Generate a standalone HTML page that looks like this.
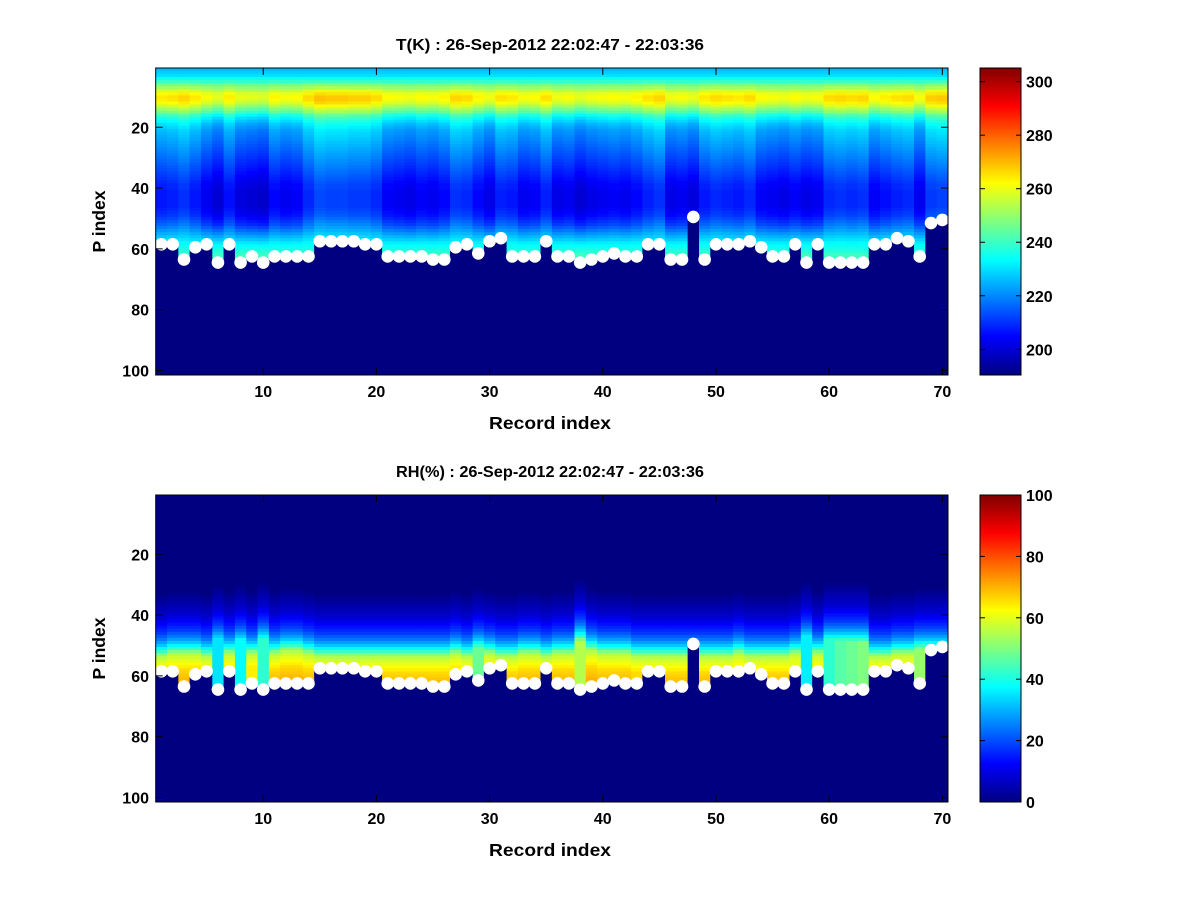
<!DOCTYPE html>
<html><head><meta charset="utf-8"><style>
html,body{margin:0;padding:0;background:#fff;}
svg{display:block;font-family:"Liberation Sans",Arial,sans-serif;font-weight:bold;}
</style></head><body>
<svg id="fig" width="1200" height="900" viewBox="0 0 1200 900" xmlns="http://www.w3.org/2000/svg">
<rect width="1200" height="900" fill="#fff"/>
<defs>
<linearGradient id="jet" x1="0" y1="1" x2="0" y2="0">
<stop offset="0" stop-color="#000080"/><stop offset="0.125" stop-color="#0000ff"/><stop offset="0.375" stop-color="#00ffff"/><stop offset="0.625" stop-color="#ffff00"/><stop offset="0.875" stop-color="#ff0000"/><stop offset="1" stop-color="#800000"/>
</linearGradient>
</defs>
<g id="top"></g>
<g id="bot"></g>
</svg>
<script>
// ---- data ----
const records = Array.from({length:70},(_,i)=>i+1);
const surfaceIndex = [58,58,63,59,58,64,58,64,62,64,62,62,62,62,57,57,57,57,58,58,62,62,62,62,63,63,59,58,61,57,56,62,62,62,57,62,62,64,63,62,61,62,62,58,58,63,63,49,63,58,58,58,57,59,62,62,58,64,58,64,64,64,64,58,58,56,57,62,51,50];
const tProfile = [226,228,230,235,240,246,251,256,261,263,262,259,254,249,244,238,234,231,228,226,224,223,222,221,220,219,218,217,216,215,214,213,212,211,210,209,208,207,206,206,205,205,205,205,205,205,206,207,208,210,212,214,217,220,223,226,229,232,234,236,238,240,241,242,243,244,244,244,244,244,244,244,244,244,244,244,244,244,244,244,244,244,244,244,244,244,244,244,244,244,244,244,244,244,244,244,244,244,244,244,244];
const tOffset = [2,3,5,2,-2,-5,1,-4,-5,-6,0,-2,-1,4,8,7,7,6,6,4,-1,-2,-3,-1,-2,0,5,4,0,-3,3,2,-2,-1,3,-3,-2,-5,-3,-2,-1,-2,0,3,5,-3,-2,-4,2,4,3,2,4,-1,-2,-3,-1,-3,-2,4,5,4,5,-1,1,3,4,-2,6,7];
const rhProfile = [0,0,0,0,0,0,0,0,0,0,0,0,0,0,0,0,0,0,0,0,0,0,0,0,0,0,0,0,0,0,0,0,0,1,2,3,4,5,6,7,8,10,12,14,16,18,21,24,28,32,37,43,50,55,58,60,62,64,66,67,68,69,70,70,70,70,70,70,70,70,70,70,70,70,70,70,70,70,70,70,70,70,70,70,70,70,70,70,70,70,70,70,70,70,70,70,70,70,70,70,70];
const rhShift = [0,1,1,1,0,3,1,3,1,4,1,2,2,1,0,0,0,0,0,0,0,0,0,0,0,0,1,0,2,1,0,0,1,1,0,1,1,5,2,1,1,1,0,0,0,0,0,0,0,0,0,1,0,0,0,0,1,4,1,4,4,4,4,0,0,1,1,2,2,2];
const rhCap = [70,70,72,66,66,35,68,38,64,42,72,72,72,72,66,66,66,66,64,64,74,74,74,74,76,76,64,64,48,64,62,70,72,72,62,72,72,55,72,70,70,70,66,62,62,74,74,70,74,64,62,62,62,62,72,72,60,36,62,42,46,48,50,66,64,62,60,52,40,40];
const xTicks = [10,20,30,40,50,60,70];
const yTicks = [20,40,60,80,100];
const tCbTicks = [200,220,240,260,280,300];
const rhCbTicks = [0,20,40,60,80,100];
const titles = ["T(K) : 26-Sep-2012 22:02:47 - 22:03:36","RH(%) : 26-Sep-2012 22:02:47 - 22:03:36"];

const NS="http://www.w3.org/2000/svg";
function mk(tag,attrs,parent){const e=document.createElementNS(NS,tag);for(const k in attrs)e.setAttribute(k,attrs[k]);parent.appendChild(e);return e;}
function jet(v){v=Math.max(0,Math.min(1,v));const c=x=>Math.round(255*Math.max(0,Math.min(1,1.5-Math.abs(x))));return `rgb(${c(4*v-3)},${c(4*v-2)},${c(4*v-1)})`;}

function tVal(c,p){const s=surfaceIndex[c];if(p>s+0.5)return 190;const w=(p>=12&&p<=52)?1:(p<12?Math.max(0,(p-4)/8):Math.max(0,1-(p-52)/8));return tProfile[p-1]+tOffset[c]*w;}
function rhVal(c,p){const s=surfaceIndex[c];if(p>s+0.5)return 0;const q=Math.min(101,Math.max(1,p+rhShift[c]));return Math.min(rhProfile[q-1],rhCap[c]);}

function panel(g,top,h,valFn,vmin,vmax,cbTicks,title,xl,yl){
  const L=155.7,W=792.3,x0=0.5,x1=70.5,y0=0.5,y1=101.5;
  const X=v=>L+(v-x0)/(x1-x0)*W, Y=v=>top+(v-y0)/(y1-y0)*h;
  const cells=mk('g',{},g);
  
  
  for(let c=0;c<records.length;c++){
    for(let p=1;p<=101;p++){
      const r=mk('rect',{x:X(records[c]-0.5).toFixed(2),y:Y(p-0.5).toFixed(2),width:(X(1.5)-X(0.5)+0.4).toFixed(2),height:(Y(1.5)-Y(0.5)+0.4).toFixed(2),fill:jet((valFn(c,p)-vmin)/(vmax-vmin))},cells);
      
      
    }
  }
  const dots=mk('g',{},g);
  
  
  for(let c=0;c<records.length;c++){
    const d=mk('circle',{cx:X(records[c]),cy:Y(surfaceIndex[c]+0.5),r:6.3,fill:'#fff'},dots);
    
    
  }
  const ax=mk('rect',{x:L,y:top,width:W,height:h,fill:'none',stroke:'#000','stroke-width':1},g);
  
  
  for(const t of xTicks){const x=X(t);
    mk('line',{x1:x,y1:top+h,x2:x,y2:top+h-7,stroke:'#000'},g);
    mk('line',{x1:x,y1:top,x2:x,y2:top+7,stroke:'#000'},g);
    const tx=mk('text',{x:x,y:top+h+22,'text-anchor':'middle','font-size':'16'},g);tx.textContent=t;
    
    }
  for(const t of yTicks){const y=Y(t);
    mk('line',{x1:L,y1:y,x2:L+7,y2:y,stroke:'#000'},g);
    mk('line',{x1:L+W,y1:y,x2:L+W-7,y2:y,stroke:'#000'},g);
    const tx=mk('text',{x:149,y:y+6,'text-anchor':'end','font-size':'16'},g);tx.textContent=t;
    
    }
  const tt=mk('text',{x:550,y:top-18,'text-anchor':'middle','font-size':'16',textLength:'308',lengthAdjust:'spacingAndGlyphs'},g);tt.textContent=title;
  
  
  const xlab=mk('text',{x:550,y:top+h+54,'text-anchor':'middle','font-size':'17.5',textLength:'122',lengthAdjust:'spacingAndGlyphs'},g);xlab.textContent=xl;
  
  
  const ylab=mk('text',{x:0,y:0,'text-anchor':'middle','font-size':'17.5',transform:`translate(105,${top+h/2}) rotate(-90)`},g);ylab.textContent=yl;
  
  
  // colorbar
  const cL=980,cW=41;
  const cb=mk('rect',{x:cL,y:top,width:cW,height:h,fill:'url(#jet)',stroke:'#000'},g);
  
  
  for(const t of cbTicks){const y=top+h-(t-vmin)/(vmax-vmin)*h;
    mk('line',{x1:cL,y1:y,x2:cL+5,y2:y,stroke:'#000'},g);
    mk('line',{x1:cL+cW,y1:y,x2:cL+cW-5,y2:y,stroke:'#000'},g);
    const tx=mk('text',{x:1026,y:y+6,'font-size':'16'},g);tx.textContent=t;
    
    }
}
panel(document.getElementById('top'),68,307,tVal,190.4,305.1,tCbTicks,titles[0],'Record index','P index');
panel(document.getElementById('bot'),495,307,rhVal,0,100,rhCbTicks,titles[1],'Record index','P index');
</script>
</body></html>
